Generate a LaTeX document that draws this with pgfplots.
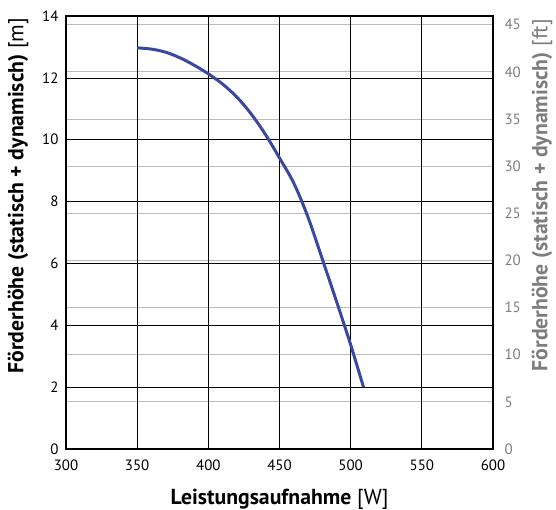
\documentclass[border=0pt]{standalone}
\usepackage{fontspec}
\setmainfont{PT Sans}
\usepackage{pgfplots}
\pgfplotsset{compat=1.18}
\definecolor{curve}{RGB}{57,72,162}
\definecolor{gridgray}{RGB}{188,188,188}
\definecolor{labgray}{RGB}{125,125,125}
\begin{document}
\begin{tikzpicture}
\useasboundingbox (0,0) rectangle (556bp,510bp);
% right axis (feet), gray grid
\begin{axis}[
  at={(66bp,61bp)}, anchor=south west,
  scale only axis, width=427bp, height=433bp,
  xmin=300, xmax=600, ymin=0, ymax=45.93176,
  hide x axis,
  axis y line*=right,
  axis line style={draw=none},
  ytick={0,5,...,45},
  ymajorgrids, major grid style={gridgray, line width=0.9pt},
  major tick length=0pt,
  /pgf/number format/assume math mode=true,
  yticklabel style={font=\fontsize{15}{17}\selectfont, text=labgray, xshift=8bp},
  ylabel={\textbf{Förderhöhe (statisch + dynamisch)} [ft]},
  ylabel style={font=\fontsize{21.8}{24}\selectfont, text=labgray, at={(axis description cs:1.115,0.586)}, anchor=center},
]
\end{axis}
\begin{axis}[
  at={(66bp,61bp)}, anchor=south west,
  scale only axis, width=427bp, height=433bp,
  xmin=300, xmax=600, ymin=0, ymax=14,
  xtick={300,350,...,600}, ytick={0,2,...,14},
  grid=major, major grid style={black, line width=0.7pt},
  axis line style={line width=1.6pt},
  major tick length=0pt,
  /pgf/number format/assume math mode=true,
  ticklabel style={font=\fontsize{15}{17}\selectfont},
  yticklabel style={xshift=-4bp},
  xticklabel style={yshift=-7bp},
  xlabel={\textbf{Leistungsaufnahme} [W]},
  ylabel={\textbf{Förderhöhe (statisch + dynamisch)} [m]},
  label style={font=\fontsize{21.8}{24}\selectfont},
  xlabel style={at={(axis description cs:0.5,-0.1155)}, anchor=center},
  ylabel style={at={(axis description cs:-0.1124,0.585)}, anchor=center},
]
\addplot[curve, line width=3pt, smooth, tension=0.5] coordinates {
(350,12.97) (360,12.93) (370,12.83) (380,12.65) (390,12.41) (400,12.13)
(410,11.8) (420,11.38) (430,10.84) (440,10.18) (450,9.41) (460,8.6)
(470,7.5) (480,6.15) (490,4.78) (500,3.37) (509,2.0)
};
\end{axis}
\end{tikzpicture}
\end{document}
